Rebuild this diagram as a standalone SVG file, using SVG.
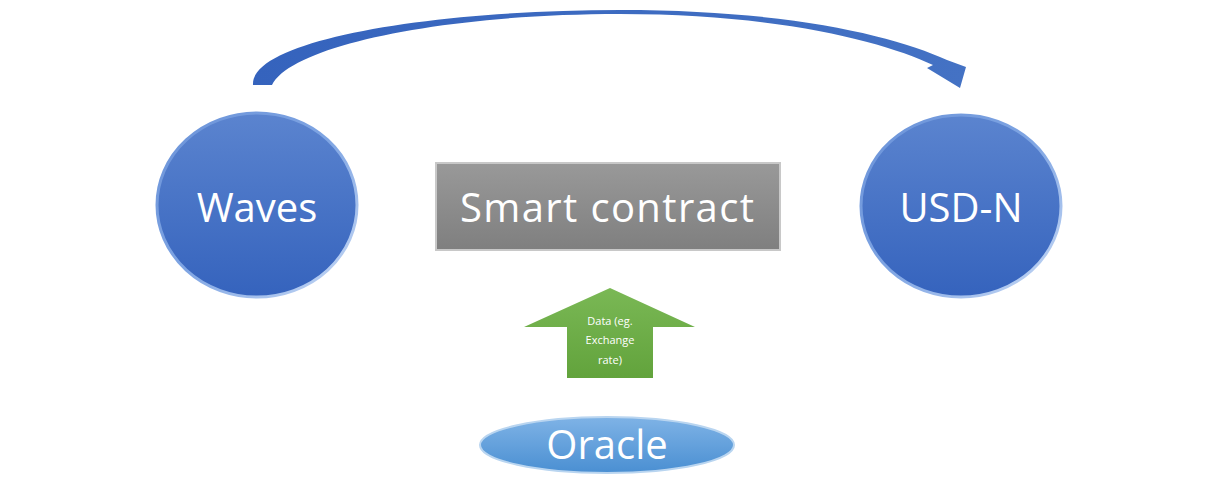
<svg xmlns="http://www.w3.org/2000/svg" width="1228" height="493" viewBox="0 0 1228 493">
<defs>
<linearGradient id="gBlue" x1="0" y1="0" x2="0" y2="1">
<stop offset="0" stop-color="#5b84cf"/>
<stop offset="1" stop-color="#3563bd"/>
</linearGradient>
<linearGradient id="gRim" x1="0" y1="0" x2="1" y2="1">
<stop offset="0" stop-color="#6a92d8"/>
<stop offset="0.5" stop-color="#7fa5e3"/>
<stop offset="1" stop-color="#c9dbf6"/>
</linearGradient>
<linearGradient id="gGray" x1="0" y1="0" x2="0" y2="1">
<stop offset="0" stop-color="#999999"/>
<stop offset="1" stop-color="#7f7f7f"/>
</linearGradient>
<linearGradient id="gGreen" x1="0" y1="0" x2="0" y2="1">
<stop offset="0" stop-color="#7ab855"/>
<stop offset="1" stop-color="#62a33c"/>
</linearGradient>
<linearGradient id="gLight" x1="0" y1="0" x2="0" y2="1">
<stop offset="0" stop-color="#7fb3e6"/>
<stop offset="1" stop-color="#4a8fd2"/>
</linearGradient>
<linearGradient id="gArc" x1="0" y1="0" x2="1" y2="0">
<stop offset="0" stop-color="#3563bd"/>
<stop offset="1" stop-color="#4472c4"/>
</linearGradient>
<style>
.lbl{font-family:"Open Sans","Liberation Sans",sans-serif;fill:#ffffff;text-anchor:middle}
.big{font-size:40px}
.small{font-size:11px}
</style>
</defs>
<g id="connectors">
<path id="curved-arrow" fill="url(#gArc)" d="M253,85 C250,40 430,10 620,10 C790,10 895,36 947,60 L966,67 L960,88 L927,68 L933,65 C885,42 780,14 620,14 C445,14 292,45 272,85 Z"/>
</g>
<g id="waves">
<ellipse cx="257" cy="205" rx="100" ry="92" fill="url(#gBlue)" stroke="url(#gRim)" stroke-width="3"/>
<text class="lbl big" x="257" y="222">Waves</text>
</g>
<g id="usdn">
<ellipse cx="961" cy="206" rx="100" ry="91" fill="url(#gBlue)" stroke="url(#gRim)" stroke-width="3"/>
<text class="lbl big" x="961" y="222">USD-N</text>
</g>
<g id="smart-contract">
<rect x="436" y="163" width="344" height="87" fill="url(#gGray)" stroke="#c8c8c8" stroke-width="2"/>
<text class="lbl big" x="607" y="222" textLength="294" lengthAdjust="spacing">Smart contract</text>
</g>
<g id="data-arrow">
<polygon points="610,288 695,327 653,327 653,378 567,378 567,327 524,327" fill="url(#gGreen)"/>
<text class="lbl small" x="610" y="325">Data (eg.</text>
<text class="lbl small" x="610" y="344">Exchange</text>
<text class="lbl small" x="610" y="364">rate)</text>
</g>
<g id="oracle">
<ellipse cx="607" cy="445" rx="127" ry="28" fill="url(#gLight)" stroke="#b9d5f0" stroke-width="2"/>
<text class="lbl big" x="607" y="459">Oracle</text>
</g>
</svg>
